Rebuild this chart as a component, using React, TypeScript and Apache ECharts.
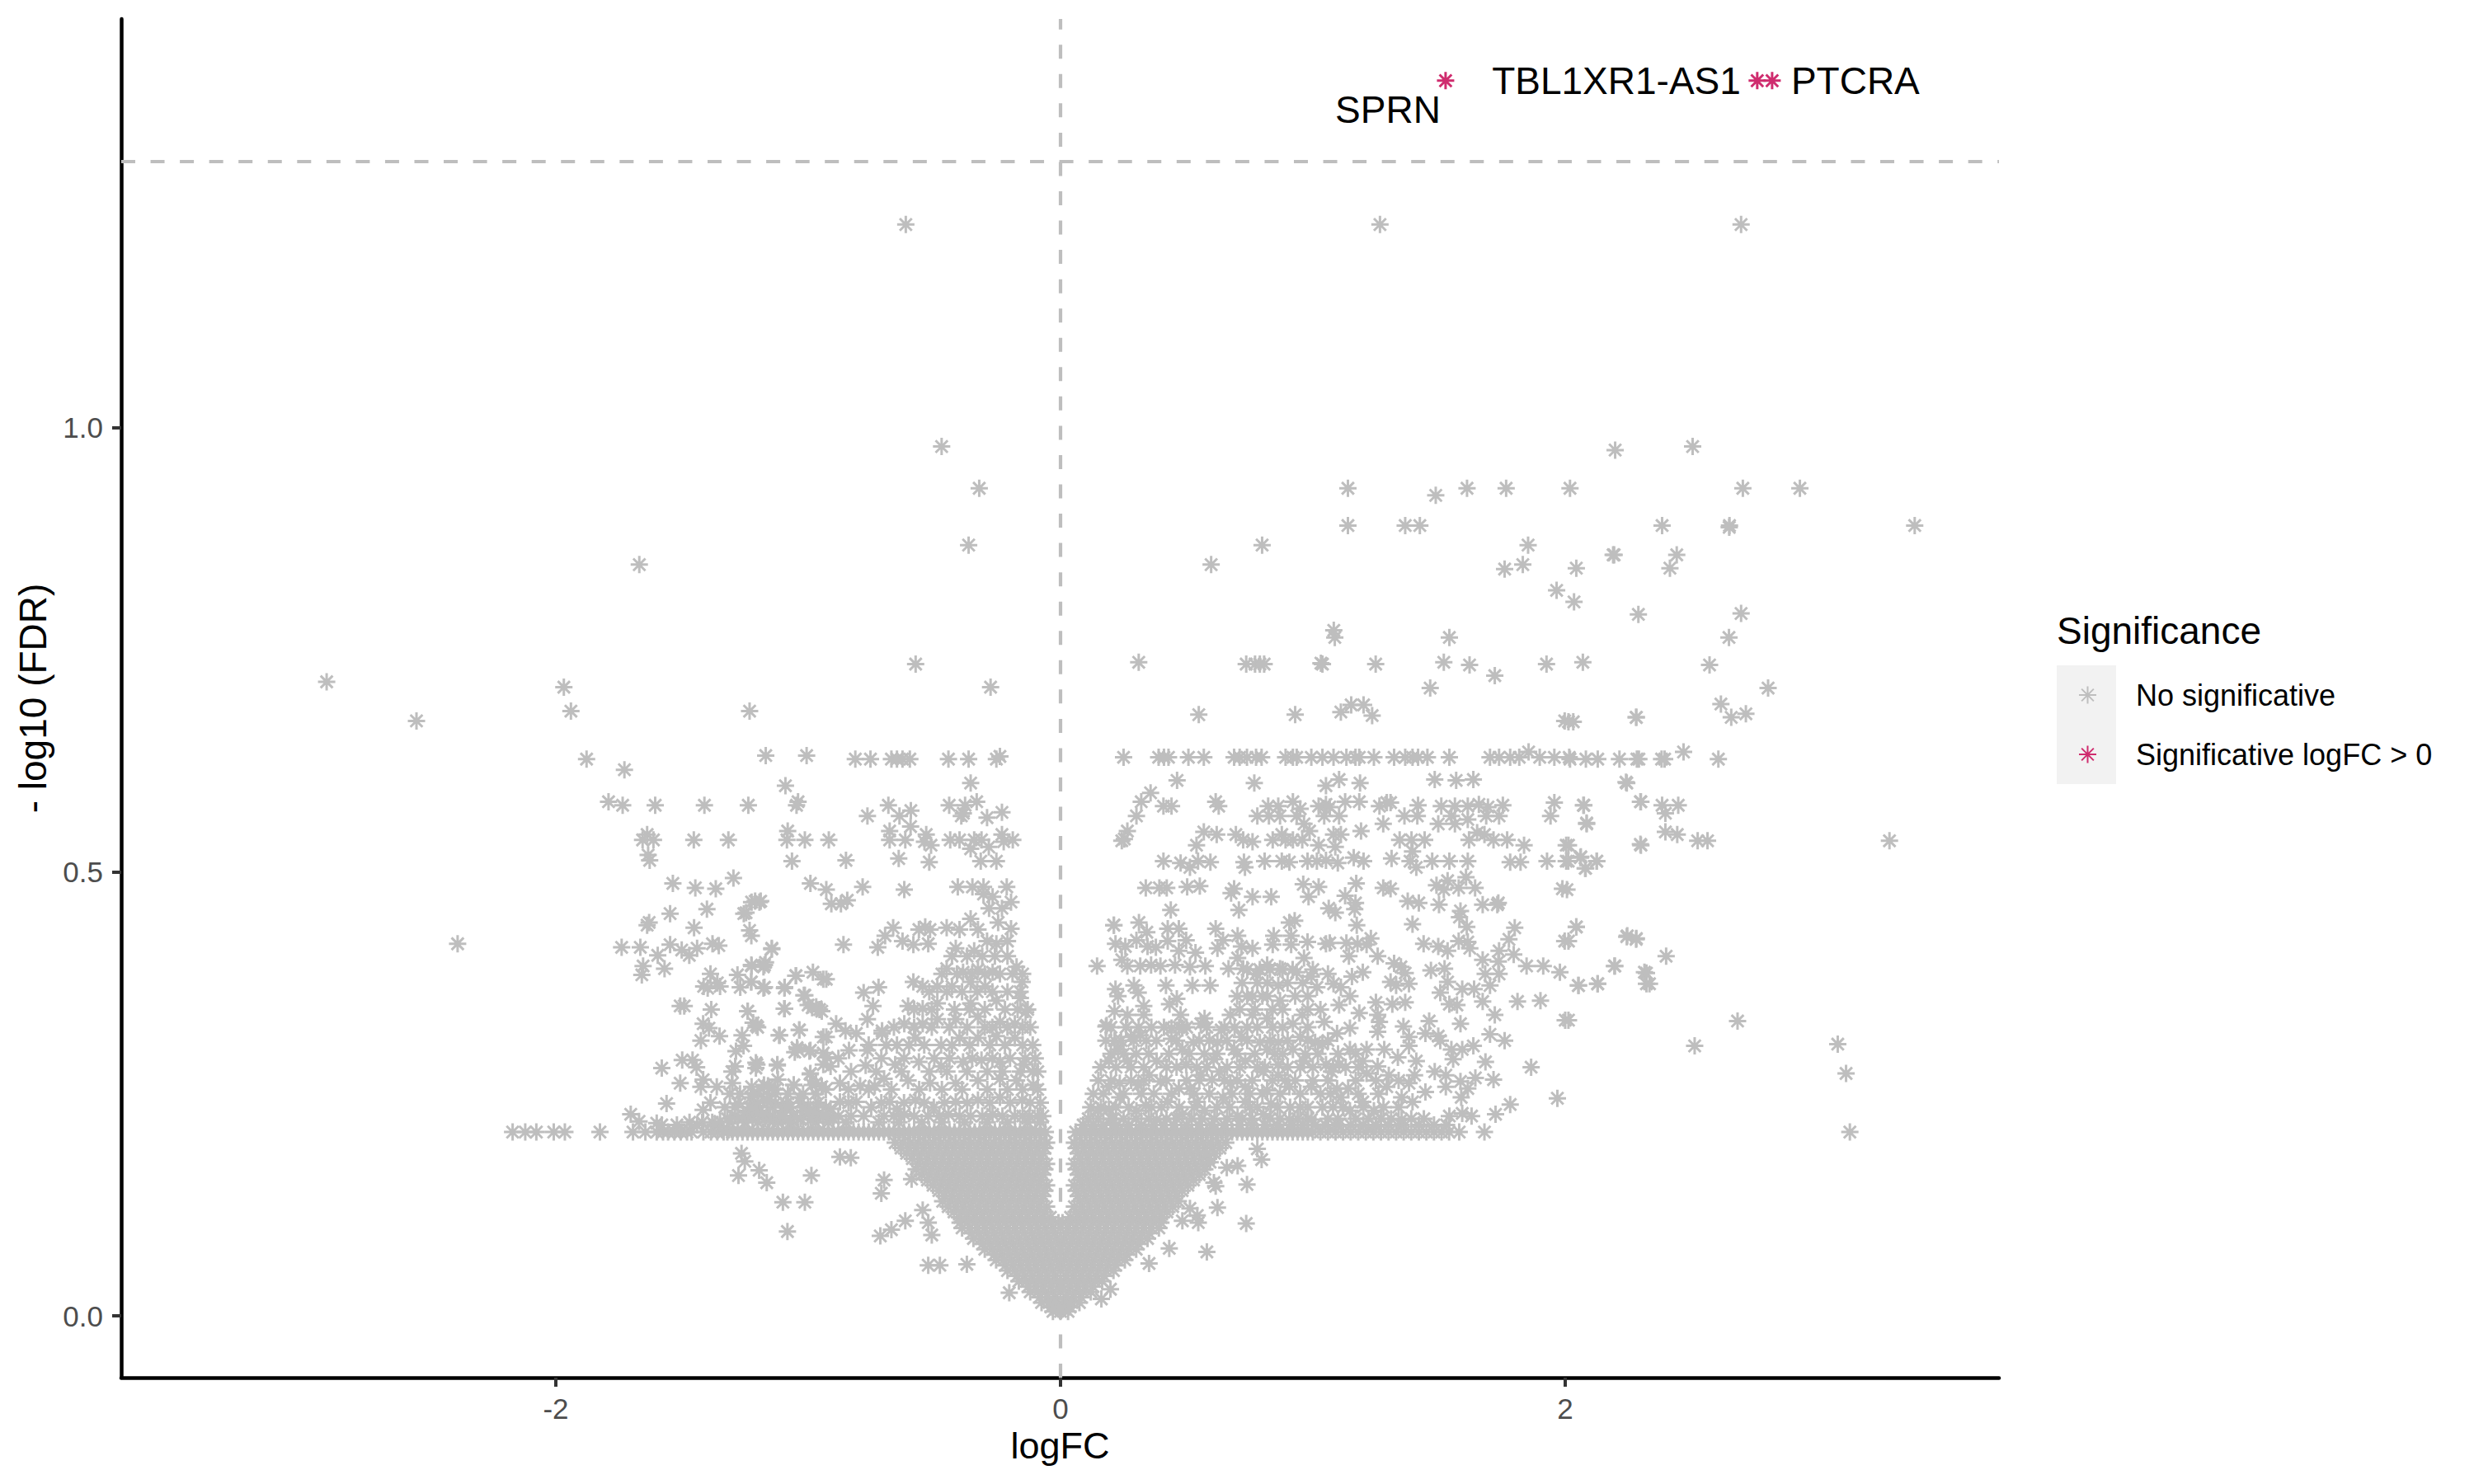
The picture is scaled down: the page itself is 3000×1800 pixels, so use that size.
import React, { useEffect, useRef } from "react";
import * as echarts from "echarts";

const FONT = "'Liberation Sans', Arial, sans-serif";
const GREY = "#BEBEBE";
const PINK = "#CF2C6E";
const STAR = "path://M0 -10V10M-10 0H10M-7 -7L7 7M-7 7L7 -7";

const xTicks = [-2, 0, 2];
const yTicks = [0, 0.5, 1];
const genes = ["SPRN", "TBL1XR1-AS1", "PTCRA"];
const sigLogFC = [1.526, 2.761, 2.82];
const sigFDR = [1.391, 1.391, 1.391];

const topPoints = [[-.613,1.229],[1.266,1.229],[2.697,1.229],[-.471,.979],[-.322,.932],[-.364,.868],[-1.669,.846],[-.574,.734],[-2.908,.714],[-1.968,.708],[-.277,.708],[-2.552,.67],[-2.389,.419],
[2.198,.975],[2.505,.979],[2.019,.932],[2.704,.932],[2.93,.932],[2.384,.89],[2.65,.888],[2.651,.89],[3.385,.89],[2.19,.857],[2.194,.857],[2.442,.857],[2.415,.842],[2.044,.842],[2.035,.804],[2.29,.79],[2.697,.791],[2.649,.764],[2.07,.736],[2.572,.733],[2.804,.707],[2.617,.689],[2.658,.674],[2.716,.678],[2.282,.674],[2.032,.669],[2.013,.669],[2.244,.6],[2.298,.579],[2.384,.575],[2.072,.575],[2.448,.575],[2.397,.566],[2.085,.555],[2.397,.545],[2.444,.542],[2.525,.535],[2.564,.535],[3.285,.535],[2.298,.531],[2.013,.53],[2.06,.516],[2.125,.512],[2.079,.504],[2.012,.512],[2.007,.48],[2.044,.438],[2.244,.427],[2.282,.425],[2.013,.422],[2.4,.405],[2.197,.394],[2.322,.386],[2.334,.374],[2.128,.374],[2.053,.372],[2.013,.333],[2.683,.332],[2.513,.304],[3.08,.306],[3.113,.273],[3.128,.207],
[1.139,.932],[1.487,.924],[1.611,.932],[1.766,.932],[1.139,.89],[1.366,.89],[1.424,.89],[.799,.868],[.597,.846],[1.853,.868],[1.76,.841],[1.832,.846],[1.966,.817],[1.083,.772],[1.087,.764],[1.541,.764],[.31,.736],[.736,.734],[.771,.734],[.79,.734],[.807,.734],[1.032,.735],[1.038,.734],[1.249,.734],[1.519,.736],[1.621,.733],[1.721,.721],[1.926,.734],[2.019,.627],[2.082,.627],[2.129,.627],[2.215,.627],[2.284,.627],[2.292,.627],[2.382,.627],[2.394,.627],[2.469,.635],[2.607,.627]];

const rightPoints = [[.548,.677],[.93,.677],[1.111,.68],[1.152,.688],[1.201,.688],[1.235,.676],[1.465,.707],[1.998,.67],[2.281,.674],
[.25,.629],[.389,.629],[.41,.629],[.428,.629],[.507,.629],[.568,.629],[.688,.629],[.71,.629],[.739,.629],[.775,.629],[.797,.629],[.892,.629],[.921,.629],[.936,.629],[.994,.629],[1.038,.629],[1.082,.629],[1.133,.629],[1.169,.629],[1.184,.629],[1.242,.629],[1.322,.629],[1.366,.629],[1.395,.629],[1.417,.629],[1.454,.629],[1.541,.629],[1.702,.629],[1.738,.629],[1.782,.629],[1.818,.629],[1.855,.635],[1.899,.629],[1.957,.629],[2.016,.629],
[.462,.603],[.768,.6],[1.052,.597],[1.104,.604],[1.187,.6],[1.483,.604],[1.568,.603],[1.636,.604],[2.241,.601],
[.357,.589],[.32,.579],[.408,.574],[.44,.574],[.615,.579],[.627,.574],[.823,.574],[.863,.574],[.921,.579],[.95,.571],[1.023,.574],[1.052,.576],[1.067,.573],[1.128,.579],[1.184,.579],[1.264,.574],[1.293,.578],[1.308,.578],[1.417,.575],[1.509,.574],[1.563,.574],[1.614,.574],[1.658,.576],[1.694,.573],[1.753,.575],[1.957,.578],[2.074,.575],[2.3,.579],
[.301,.563],[.78,.563],[.826,.563],[.87,.563],[.936,.563],[1.045,.563],[1.104,.563],[1.363,.563],[1.414,.563],[1.549,.563],[1.614,.559],[1.687,.563],[1.738,.563],[1.942,.563],[1.279,.554],[1.497,.554],[1.563,.554],[2.085,.554],[.965,.554],
[.265,.546],[.253,.537],[.243,.535],[.568,.545],[.619,.542],[.695,.542],[.724,.536],[.761,.534],[.539,.53],[.841,.536],[.877,.542],[.892,.536],[.921,.536],[.958,.536],[.987,.546],[1.082,.542],[1.111,.542],[1.191,.546],[1.023,.53],[1.089,.528],[1.344,.536],[1.391,.536],[1.443,.536],[1.395,.523],[1.619,.536],[1.651,.544],[1.68,.542],[1.716,.536],[1.77,.536],[1.837,.53],[2.004,.53],[2.3,.53],
[.408,.512],[.476,.51],[.513,.505],[.545,.512],[.594,.511],[.727,.511],[.731,.505],[.809,.512],[.877,.512],[.907,.511],[.979,.512],[1.016,.512],[1.052,.513],[1.099,.51],[1.162,.516],[1.201,.512],[1.312,.515],[1.385,.512],[1.41,.505],[1.473,.512],[1.541,.512],[1.614,.512],[1.782,.511],[1.823,.511],[1.928,.512],[2.004,.512],[2.062,.517],[2.125,.512],[2.081,.504],
[.338,.482],[.392,.482],[.421,.482],[.502,.483],[.552,.484],[.688,.481],[.676,.476],[.761,.472],[.835,.472],[.962,.486],[.983,.472],[1.023,.483],[1.172,.487],[1.128,.473],[1.169,.465],[1.279,.482],[1.308,.481],[1.376,.467],[1.42,.465],[1.5,.463],[1.49,.485],[1.534,.49],[1.519,.48],[1.578,.482],[1.607,.494],[1.643,.482],[1.989,.481],[1.673,.463],[1.731,.463],[1.735,.465],
[.437,.457],[.707,.457],[1.063,.459],[1.089,.454],[1.166,.458],[1.585,.456],[1.581,.449],[.211,.44],[.311,.443],[.342,.432],[.425,.436],[.469,.436],[.615,.436],[.907,.443],[.928,.445],[1.174,.44],[1.395,.441],[1.61,.438],[1.8,.437],[2.044,.438],[2.246,.428],[2.281,.424],
[.218,.419],[.257,.416],[.301,.423],[.345,.416],[.378,.415],[.425,.422],[.469,.411],[.498,.423],[.535,.409],[.622,.414],[.644,.423],[.702,.428],[.717,.416],[.761,.414],[.845,.428],[.914,.428],[.841,.418],[.914,.418],[.979,.421],[1.052,.419],[1.067,.42],[1.133,.42],[1.177,.419],[1.213,.418],[1.23,.425],[1.143,.405],[1.439,.419],[1.497,.416],[1.534,.411],[1.578,.422],[1.614,.421],[1.622,.414],[1.777,.424],[1.738,.411],[1.998,.422],
[.145,.394],[.243,.401],[.265,.394],[.316,.394],[.359,.395],[.396,.394],[.454,.395],[.513,.393],[.574,.394],[.666,.391],[.702,.403],[.724,.391],[.775,.385],[.819,.395],[.87,.391],[.936,.387],[.965,.403],[.994,.382],[1.06,.385],[1.155,.382],[1.198,.387],[1.257,.405],[1.322,.397],[1.349,.393],[1.366,.386],[1.468,.389],[1.522,.391],[1.673,.401],[1.735,.399],[1.683,.385],[1.738,.385],[1.796,.407],[1.847,.394],[1.913,.394],[1.979,.387],[2.195,.394],[2.314,.387],
[.218,.368],[.228,.36],[.291,.372],[.308,.364],[.418,.372],[.523,.372],[.593,.372],[.761,.36],[.863,.372],[.87,.355],[1.016,.37],[1.082,.374],[1.111,.37],[1.147,.36],[1.104,.35],[1.184,.341],[1.308,.376],[1.33,.372],[1.381,.374],[1.315,.351],[1.366,.353],[1.25,.353],[1.505,.364],[1.534,.376],[1.592,.368],[1.639,.368],[1.702,.372],[1.541,.351],[1.571,.35],[1.673,.354],[1.811,.354],[1.902,.355],[2.052,.372],[2.129,.374],[2.322,.374],
[.214,.343],[.265,.339],[.33,.349],[.33,.339],[.432,.351],[.461,.357],[.18,.326],[.476,.339],[.44,.324],[.483,.324],[.571,.335],[.556,.329],[.637,.322],[.673,.339],[.761,.339],[.819,.335],[.921,.329],[.958,.339],[1.045,.331],[1.096,.318],[1.147,.324],[1.257,.339],[1.264,.331],[1.257,.32],[1.359,.326],[1.461,.332],[1.446,.318],[1.497,.315],[1.585,.329],[1.721,.339],[2,.333],[1.702,.317],[1.76,.31],[1.381,.314],[.183,.327],[.212,.44],
[.214,.31],[.279,.314],[.316,.316],[.44,.312],[.527,.308],[.622,.308],[.717,.314],[.79,.308],[.863,.308],[.95,.314],[1.009,.308],[.228,.3],[.483,.3],[.688,.3],[.819,.3],[.921,.3],[1.038,.306],[1.147,.3],[1.213,.3],[1.283,.3],[1.381,.304],[1.549,.3],[1.592,.3],[1.636,.304],[1.505,.31],[.192,.287],[.265,.287],[.381,.287],[.498,.283],[.607,.289],[.732,.287],[.863,.283],[.965,.287],[1.052,.283],[1.104,.283],[1.198,.287],[1.257,.281],[1.337,.291],[1.41,.287],[1.483,.275],[1.556,.289],[1.684,.286],[1.865,.28],[1.716,.266],[1.644,.268],[1.585,.264],[1.527,.271],[1.403,.271],[1.301,.271],[1.213,.273],[1.074,.275],[.863,.271],[.804,.275],[.629,.275],[.556,.271],[.352,.271],
[.192,.258],[.235,.262],[.308,.26],[.396,.264],[.469,.256],[.513,.256],[.6,.266],[.673,.262],[.732,.258],[.819,.254],[.907,.258],[.994,.258],[1.096,.256],[1.14,.256],[1.293,.258],[1.381,.262],[1.446,.252],[1.527,.258],[1.614,.256],[1.588,.246],[1.969,.245],[1.782,.238],[1.724,.227],[1.592,.228],[1.541,.225],[1.629,.225],[1.395,.241],[1.352,.246],[1.198,.241],[1.111,.246],[.95,.235],[.834,.239],[.732,.241],[.644,.246],[.542,.241],[.425,.241],[.338,.237],[.235,.246],[.192,.233],[.148,.231],[.301,.231],[.483,.227],[.571,.231],[.702,.225],[.804,.227],[.907,.221],[1.038,.235],[1.147,.231],[1.242,.231],[1.352,.221],[.994,.221],[.381,.221],[.206,.221]];

const leftPoints = [[-1.232,.681],[-1.878,.627],[-1.728,.615],[-1.168,.631],[-1.006,.631],[-1.94,.681],[-1.09,.597],[-1.791,.579],[-1.735,.575],[-1.606,.575],[-1.411,.575],[-1.237,.575],[-1.04,.579],[-1.046,.575],[-1.638,.542],[-1.656,.536],[-1.613,.536],[-1.453,.536],[-1.316,.536],[-1.081,.546],[-1.084,.536],[-1.013,.536],[-.918,.536],[-1.634,.519],[-1.628,.513],[-1.064,.512],[-1.536,.487],[-1.447,.482],[-1.366,.481],[-1.296,.493],[-.991,.487],[-.928,.48],[-1.224,.466],[-1.193,.466],[-1.255,.453],[-1.547,.453],[-1.401,.458],[-1.63,.443],[-1.638,.44],[-1.452,.437],[-1.232,.434],[-1.225,.428],[-1.739,.415],[-1.665,.415],[-1.596,.406],[-1.547,.418],[-1.501,.412],[-1.471,.406],[-1.44,.414],[-1.379,.419],[-1.354,.417],[-1.144,.413],[-1.654,.394],[-1.659,.384],[-1.569,.391],[-1.169,.398],[-1.177,.393],[-1.224,.394],[-1.387,.385],[-1.36,.375],[-1.414,.371],[-1.398,.369],[-1.349,.371],[-1.28,.384],[-1.226,.376],[-1.269,.37],[-1.177,.369],[-1.094,.369],[-1.048,.383],[-.981,.387],[-.94,.379],[-1.017,.361],[-1,.35],[-.968,.348],[-.946,.343],
[-1.507,.349],[-1.491,.349],[-1.384,.345],[-1.24,.343],[-1.095,.346],[-1.416,.329],[-1.393,.324],[-1.351,.315],[-1.425,.31],[-1.218,.33],[-1.2,.325],[-1.035,.322],[-1.113,.316],[-.94,.314],[-1.262,.316],[-1.256,.304],[-1.286,.298],[-1.044,.302],[-1.053,.297],[-.995,.298],[-.94,.296],[-1.499,.288],[-1.458,.288],[-1.442,.28],[-1.58,.279],[-1.289,.281],[-1.302,.275],[-1.207,.285],[-1.207,.279],[-1.122,.283],[-.992,.272],[-.94,.283],[-1.507,.262],[-1.425,.258],[-1.416,.266],[-1.362,.258],[-1.3,.262],[-1.224,.258],[-1.175,.26],[-1.153,.256],[-1.12,.266],[-1.057,.26],[-.984,.26],[-.946,.258],[-1.561,.239],[-1.387,.24],[-1.416,.232],[-1.278,.239],[-1.227,.246],[-1.164,.242],[-1.24,.231],[-1.191,.231],[-1.088,.239],[-1.033,.246],[-1,.235],[-.962,.227],[-1.703,.227],[-1.67,.219],[-1.6,.217],[-1.349,.219],[-1.278,.223],[-1.153,.221],[-1.109,.225],[-1.044,.223],[-.99,.221],
[-.813,.627],[-.753,.627],[-.67,.627],[-.648,.627],[-.626,.627],[-.597,.627],[-.444,.627],[-.364,.627],[-.254,.627],[-.24,.63],[-.356,.6],[-.682,.575],[-.593,.569],[-.765,.563],[-.638,.563],[-.441,.575],[-.378,.575],[-.332,.579],[-.385,.566],[-.291,.561],[-.232,.567],[-.393,.563],[-.677,.546],[-.677,.536],[-.615,.536],[-.594,.551],[-.532,.542],[-.539,.534],[-.513,.53],[-.437,.536],[-.4,.536],[-.342,.536],[-.313,.536],[-.356,.526],[-.284,.528],[-.232,.542],[-.225,.534],[-.189,.536],[-.85,.513],[-.641,.515],[-.52,.511],[-.316,.512],[-.254,.512],[-.784,.483],[-.619,.48],[-.407,.483],[-.349,.483],[-.305,.483],[-.213,.483],[-.305,.475],[-.269,.472],[-.196,.466],[-.283,.459],[-.232,.459],[-.908,.464],[-.87,.464],[-.845,.468],[-1.21,.467],[-1.188,.467],[-1.246,.454],
[-.356,.447],[-.663,.437],[-.695,.428],[-.724,.415],[-.86,.418],[-1.144,.414],[-.626,.422],[-.583,.418],[-.561,.435],[-.536,.438],[-.517,.435],[-.524,.419],[-.451,.437],[-.4,.435],[-.327,.435],[-.247,.443],[-.196,.436],[-.415,.414],[-.342,.411],[-.291,.422],[-.254,.419],[-.21,.422],[-1.173,.395],[-1.225,.395],[-1.049,.383],[-.928,.379],[-1.225,.376],[-1.173,.37],[-1.093,.37],[-.451,.391],[-.386,.387],[-.327,.39],[-.269,.387],[-.174,.393],[-.152,.376],[-.583,.376],[-.546,.371],[-.488,.371],[-.43,.371],[-.356,.376],[-.298,.371],[-.78,.364],[-.721,.37],[-1.013,.361],[-.984,.347],[-.955,.345],[-1.093,.346],[-1.239,.343],[-.743,.349],[-.604,.349],[-.546,.346],[-.488,.352],[-.356,.352],[-.254,.355],[-.159,.358],[-.138,.342],[-1.206,.327],[-.889,.329],[-.765,.334],[-.852,.321],[-.707,.321],[-.619,.329],[-.546,.329],[-.488,.334],[-.415,.334],[-.327,.337],[-.24,.331],[-.181,.329],[-1.115,.316],[-1.035,.322],[-.928,.314],[-.809,.318],[-.648,.305],[-.575,.313],[-.473,.305],[-.4,.313],[-.327,.313],[-.254,.315],[-.181,.313],[-1.042,.3],[-.991,.299],[-.925,.291],[-.838,.299],[-.765,.299],[-.707,.318],[-1.203,.283],[-1.122,.282],[-.911,.281],[-.772,.282],[-.655,.283],[-.561,.286],[-.473,.281],[-.386,.286],[-.313,.288],[-.24,.286],[-.145,.283],[-.991,.273],[-.699,.267],[-1.057,.26],[-1.159,.259],[-1.217,.251],[-.969,.262],[-.874,.262],[-.794,.259],[-.736,.259],[-.604,.265],[-.517,.262],[-.415,.262],[-.327,.265],[-.24,.267],[-.174,.265],[-.108,.26],[-1.232,.235],[-1.159,.243],[-1.086,.235],[-.998,.23],[-.874,.241],[-.677,.241],[-.648,.233],[-.575,.243],[-.502,.235],[-.415,.241],[-.327,.243],[-.24,.246],[-.152,.243],[-.809,.241],[-.75,.235],[-.911,.233],[-.94,.227],[-.619,.227],[-.524,.225],[-.444,.227],[-.356,.225],[-.269,.227],[-.181,.225],[-.123,.225],[-1.1,.225],[-1.181,.227]];

const belowBandPoints = [[-1.264,.183],[-1.251,.174],[-1.276,.158],[-1.194,.164],[-1.164,.15],[-.987,.158],[-.874,.179],[-.831,.178],[-.699,.153],[-.71,.138],[-1.1,.128],[-1.013,.128],[-1.082,.095],[-.615,.107],[-.67,.097],[-.714,.09],[-.546,.119],[-.524,.105],[-.51,.091],[-.524,.057],[-.478,.057],[-.371,.058],[-.203,.026],[-.59,.154],
[.78,.188],[.797,.176],[.702,.169],[.659,.167],[.593,.173],[.608,.15],[.615,.146],[.739,.148],[.622,.122],[.542,.113],[.546,.105],[.736,.104],[.483,.107],[.513,.121],[.58,.072],[.431,.076],[.351,.059],[.162,.019],[.198,.03]];

// Overplotted clusters above the plateau, where single stars cannot be told apart: rows estimated from the
// picture, as [ -log10(FDR) x1000, logFC x1000 ... ]
const clusterRows = [
[405,-430,-370,-310,-260,-210],
[385,-470,-410,-350,-300,-240,-190,-150],
[365,-520,-450,-390,-330,-270,-210,-160],
[345,-580,-510,-420,-360,-300,-220,-170,-130],
[325,-660,-580,-510,-440,-370,-300,-270,-210,-150,-120],
[305,-760,-690,-600,-540,-430,-360,-280,-220,-150,-110],
[290,-880,-710,-620,-500,-440,-350,-270,-200,-140,-100],
[275,-830,-730,-630,-520,-450,-370,-290,-230,-160,-110,-90],
[255,-1130,-930,-840,-760,-670,-560,-470,-390,-290,-210,-150,-90],
[250,-1310,-1270,-1200,-1130,-1080,-1020,-970],
[240,-1200,-1130,-1030,-960,-840,-710,-620,-540,-460,-370,-280,-200,-120,-80],
[235,-1330,-1290,-1210,-1140,-1100,-1070,-1020,-970,-930],
[225,-1290,-1220,-1150,-1060,-1020,-880,-830,-780,-700,-660,-580,-480,-400,-310,-230,-150,-90,-70],
[222,-1320,-1260,-1220,-1170,-1130,-1070,-1030,-960,-920,-900],
[218,-1470,-1420,-1380,-1310,-1250,-1200,-1120,-1070,-970,-920,-850,-720,-640,-550,-470,-380,-290,-210,-130,-80],
[215,-1580,-1520,-1440,-1370],
[390,740,790,830,880,920,1000],
[375,720,780,820,900,960],
[360,700,740,800,820,930,980],
[345,710,770,840,880,980,1030],
[325,200,260,310,360,410,470,500,580,650,690,740,780,840,880,980],
[310,180,240,290,340,380,460,550,590,660,740,830,900,980,1060],
[295,200,250,300,350,430,510,570,620,700,770,850,880,970,1020,1100,1170],
[280,160,220,280,330,420,460,540,580,660,710,780,810,900,950,1000,1080,1130,1180],
[265,150,200,280,330,420,500,550,650,700,760,840,890,930,1000,1060,1170,1250,1340],
[250,130,170,250,320,370,440,530,590,680,750,800,870,950,1030,1070,1180,1260],
[235,120,160,220,270,360,400,470,530,620,670,750,780,860,910,980,1080,1120,1200,1280,1340],
[222,110,150,200,250,300,350,420,460,520,560,610,660,720,760,830,870,940,980,1060,1100,1170,1220,1270,1310,1390,1440],
[215,90,130,170,220,270,320,370,410,450,500,550,600,650,710,760,810,860,920,960,1010,1050,1100,1150,1200,1250,1300,1350,1420,1480,1530],
];

// logFC in thousandths along the plateau of repeated FDR values, -log10(FDR) about 0.207
const plateauLogFC = [-2171,-2121,-2077,-2008,-1964,-1825,-1694,-1645,-1600,-1575,-1555,-1530,-1505,-1480,-1462,-1415,-1385,-1360,-1335,-1320,-1300,-1280,-1260,-1240,-1220,-1200,-1180,-1160,-1140,-1120,-1100,-1080,-1060,-1040,-1020,-1000,-980,-960,-940,-920,-900,-880,-860,-840,-820,-800,-780,-760,-740,-720,-700,-680,-660,-640,-620,-600,-580,-560,-540,-520,-500,-480,-460,-440,-420,-400,-380,-360,-340,-320,-300,-280,-260,-240,-220,-200,-180,-160,-140,-120,-100,-80,-60,
60,80,100,120,140,160,180,200,220,240,260,280,300,320,340,360,380,400,420,440,460,480,500,520,540,560,580,600,620,640,660,680,700,720,740,760,780,800,820,840,860,880,900,920,940,960,980,1000,1030,1060,1090,1120,1150,1180,1210,1240,1270,1300,1330,1360,1390,1420,1450,1480,1510,1540,1580,1680];
const plateauFDR = 0.207;

// Estimated rows for the solid V core, whose single points cannot be read: [ -log10(FDR) x1000, logFC x1000 ... ]
const coreRows = [
[195,-655,-625,-595,-565,-535,-505,-475,-445,-415,-385,-355,-325,-295,-265,-235,-205,-175,-145,-115,-85,-55,55,85,115,145,175,205,235,265,295,325,355,385,415,445,475,505,535,565,595,625,655],
[189,-632,-602,-572,-542,-512,-482,-452,-422,-392,-362,-332,-302,-272,-242,-212,-182,-152,-122,-92,-62,62,92,122,152,182,212,242,272,302,332,362,392,422,452,482,512,542,572,602,632],
[183,-610,-580,-550,-520,-490,-460,-430,-400,-370,-340,-310,-280,-250,-220,-190,-160,-130,-100,-70,70,100,130,160,190,220,250,280,310,340,370,400,430,460,490,520,550,580,610],
[177,-587,-557,-527,-497,-467,-437,-407,-377,-347,-317,-287,-257,-227,-197,-167,-137,-107,-77,77,107,137,167,197,227,257,287,317,347,377,407,437,467,497,527,557,587],
[171,-565,-535,-505,-475,-445,-415,-385,-355,-325,-295,-265,-235,-205,-175,-145,-115,-85,-55,55,85,115,145,175,205,235,265,295,325,355,385,415,445,475,505,535,565],
[165,-572,-542,-512,-482,-452,-422,-392,-362,-332,-302,-272,-242,-212,-182,-152,-122,-92,-62,62,92,122,152,182,212,242,272,302,332,362,392,422,452,482,512,542,572],
[159,-550,-520,-490,-460,-430,-400,-370,-340,-310,-280,-250,-220,-190,-160,-130,-100,-70,70,100,130,160,190,220,250,280,310,340,370,400,430,460,490,520,550],
[153,-527,-497,-467,-437,-407,-377,-347,-317,-287,-257,-227,-197,-167,-137,-107,-77,77,107,137,167,197,227,257,287,317,347,377,407,437,467,497,527],
[147,-505,-475,-445,-415,-385,-355,-325,-295,-265,-235,-205,-175,-145,-115,-85,-55,55,85,115,145,175,205,235,265,295,325,355,385,415,445,475,505],
[141,-482,-452,-422,-392,-362,-332,-302,-272,-242,-212,-182,-152,-122,-92,-62,62,92,122,152,182,212,242,272,302,332,362,392,422,452,482],
[135,-460,-430,-400,-370,-340,-310,-280,-250,-220,-190,-160,-130,-100,-70,70,100,130,160,190,220,250,280,310,340,370,400,430,460],
[129,-467,-437,-407,-377,-347,-317,-287,-257,-227,-197,-167,-137,-107,-77,77,107,137,167,197,227,257,287,317,347,377,407,437,467],
[123,-445,-415,-385,-355,-325,-295,-265,-235,-205,-175,-145,-115,-85,-55,55,85,115,145,175,205,235,265,295,325,355,385,415,445],
[117,-422,-392,-362,-332,-302,-272,-242,-212,-182,-152,-122,-92,-62,62,92,122,152,182,212,242,272,302,332,362,392,422],
[111,-400,-370,-340,-310,-280,-250,-220,-190,-160,-130,-100,-70,-40,40,70,100,130,160,190,220,250,280,310,340,370,400],
[105,-398,-368,-338,-308,-278,-248,-218,-188,-158,-128,-98,-68,-38,-8,8,38,68,98,128,158,188,218,248,278,308,338,368,398],
[99,-390,-360,-330,-300,-270,-240,-210,-180,-150,-120,-90,-60,-30,0,30,60,90,120,150,180,210,240,270,300,330,360,390],
[93,-352,-322,-292,-262,-232,-202,-172,-142,-112,-82,-52,-22,22,52,82,112,142,172,202,232,262,292,322,352],
[87,-345,-315,-285,-255,-225,-195,-165,-135,-105,-75,-45,-15,15,45,75,105,135,165,195,225,255,285,315,345],
[81,-308,-278,-248,-218,-188,-158,-128,-98,-68,-38,-8,8,38,68,98,128,158,188,218,248,278,308],
[75,-300,-270,-240,-210,-180,-150,-120,-90,-60,-30,0,30,60,90,120,150,180,210,240,270,300],
[69,-262,-232,-202,-172,-142,-112,-82,-52,-22,22,52,82,112,142,172,202,232,262],
[63,-255,-225,-195,-165,-135,-105,-75,-45,-15,15,45,75,105,135,165,195,225,255],
[57,-218,-188,-158,-128,-98,-68,-38,-8,8,38,68,98,128,158,188,218],
[51,-210,-180,-150,-120,-90,-60,-30,0,30,60,90,120,150,180,210],
[45,-172,-142,-112,-82,-52,-22,22,52,82,112,142,172],
[39,-165,-135,-105,-75,-45,-15,15,45,75,105,135,165],
[33,-128,-98,-68,-38,-8,8,38,68,98,128],
[27,-120,-90,-60,-30,0,30,60,90,120],
[21,-82,-52,-22,22,52,82],
[15,-75,-45,-15,15,45,75],
[10,-38,-8,8,38],
[5,-30,0,30],
];

const plateauPoints = plateauLogFC.map((x) => [x / 1000, plateauFDR]);
const rowPoints = (rows: number[][]) => rows.flatMap((r) => r.slice(1).map((x) => [x / 1000, r[0] / 1000]));
const greyPoints = [...rowPoints(coreRows), ...plateauPoints, ...rowPoints(clusterRows), ...belowBandPoints, ...leftPoints, ...rightPoints, ...topPoints];

const labelPlace = [
  { position: "left", distance: -6, offset: [0, 35] },
  { position: "left", distance: 8, offset: [0, 0] },
  { position: "right", distance: 11, offset: [0, 0] },
];

export default function App() {
  const ref = useRef<HTMLDivElement>(null);
  useEffect(() => {
    const chart = echarts.init(ref.current!, undefined, { renderer: "svg" });
    chart.setOption({
      animation: false,
      backgroundColor: "#FFFFFF",
      textStyle: { fontFamily: FONT },
      grid: { left: 147, right: 576, top: 23, bottom: 129 },
      xAxis: {
        type: "value", min: -3.722, max: 3.719, splitLine: { show: false },
        name: "logFC", nameLocation: "middle", nameGap: 60,
        nameTextStyle: { fontSize: 45, color: "#000", fontFamily: FONT },
        axisLine: { onZero: false, lineStyle: { color: "#000", width: 4.5 } },
        axisTick: { length: 11, lineStyle: { color: "#333", width: 4 }, customValues: xTicks },
        axisLabel: { fontSize: 35, color: "#4D4D4D", margin: 20, fontFamily: FONT, customValues: xTicks },
      },
      yAxis: {
        type: "value", min: -0.0696, max: 1.4605, splitLine: { show: false },
        name: "- log10 (FDR)", nameLocation: "middle", nameGap: 84, nameRotate: 90,
        nameTextStyle: { fontSize: 46, color: "#000", fontFamily: FONT },
        axisLine: { onZero: false, lineStyle: { color: "#000", width: 4.5 } },
        axisTick: { length: 11, lineStyle: { color: "#333", width: 4 }, customValues: yTicks },
        axisLabel: { fontSize: 35, color: "#4D4D4D", margin: 22, fontFamily: FONT, customValues: yTicks, formatter: (v: number) => v.toFixed(1) },
      },
      legend: {
        orient: "vertical", left: 2520, top: 825, padding: 0, itemWidth: 21, itemHeight: 21, itemGap: 36,
        icon: STAR, data: ["No significative", "Significative logFC > 0"],
        textStyle: { fontSize: 36, color: "#000", fontFamily: FONT, padding: [0, 0, 0, 43] },
      },
      graphic: [
        { type: "rect", left: 2494, top: 807, z: -1, shape: { width: 72, height: 144 }, style: { fill: "#F2F2F2" } },
        { type: "text", left: 2494, top: 742, style: { text: "Significance", fontSize: 46, fill: "#000", fontFamily: FONT } },
      ],
      series: [
        {
          name: "No significative", type: "scatter", symbol: STAR, symbolSize: 21, progressive: 0,
          itemStyle: { color: "rgba(0,0,0,0)", borderColor: GREY, borderWidth: 3, opacity: 1 },
          data: greyPoints,
          markLine: {
            silent: true, symbol: "none", animation: false, label: { show: false },
            lineStyle: { type: [17, 18.55], width: 4.2, color: GREY },
            data: [{ yAxis: 1.301 }, { xAxis: 0 }],
          },
        },
        {
          name: "Significative logFC > 0", type: "scatter", symbol: STAR, symbolSize: 21,
          itemStyle: { color: "rgba(0,0,0,0)", borderColor: PINK, borderWidth: 3, opacity: 1 },
          data: sigLogFC.map((x, i) => ({
            value: [x, sigFDR[i]],
            label: { show: true, formatter: genes[i], fontSize: 46, color: "#000", fontFamily: FONT, ...labelPlace[i] },
          })),
        },
      ],
    });
    return () => chart.dispose();
  }, []);
  return <div ref={ref} style={{ position: "absolute", left: 0, top: 0, width: 3000, height: 1800 }} />;
}
